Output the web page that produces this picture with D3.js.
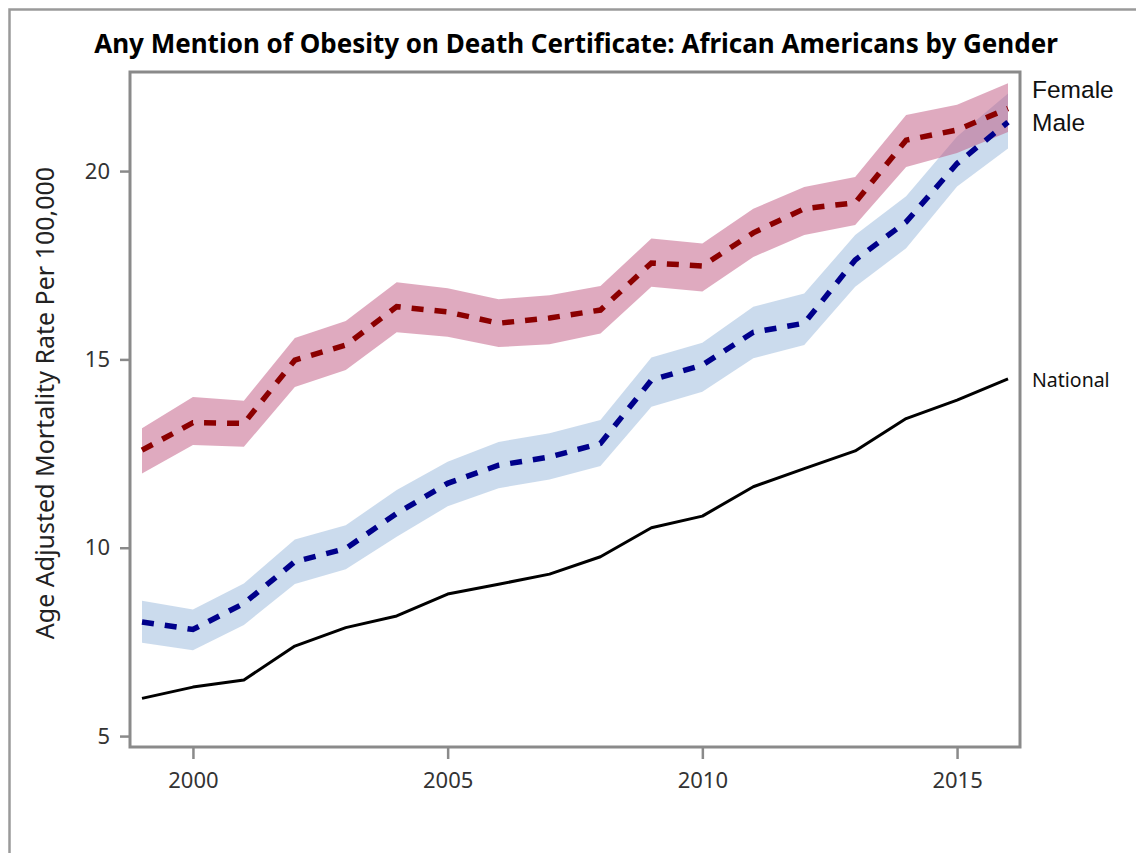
<!DOCTYPE html>
<html>
<head>
<meta charset="utf-8">
<script src="https://cdn.jsdelivr.net/npm/d3@7"></script>
<style>
  html, body { margin: 0; padding: 0; background: #fff; }
  svg { display: block; }
</style>
</head>
<body>
<svg id="chart" width="1136" height="853"></svg>
<script>
const years = [1999, 2000, 2001, 2002, 2003, 2004, 2005, 2006, 2007, 2008, 2009, 2010, 2011, 2012, 2013, 2014, 2015, 2016];
const national = [6.0, 6.3, 6.49, 7.39, 7.88, 8.19, 8.77, 9.03, 9.3, 9.76, 10.53, 10.84, 11.62, 12.1, 12.57, 13.43, 13.92, 14.48];
const male = [8.03, 7.83, 8.52, 9.63, 9.98, 10.91, 11.71, 12.19, 12.41, 12.77, 14.45, 14.85, 15.72, 15.96, 17.64, 18.65, 20.2, 21.3];
const maleLo = [7.48, 7.28, 7.95, 9.04, 9.43, 10.29, 11.1, 11.58, 11.81, 12.17, 13.74, 14.14, 15.03, 15.38, 16.93, 17.95, 19.59, 20.6];
const maleHi = [8.59, 8.36, 9.05, 10.22, 10.6, 11.53, 12.28, 12.81, 13.04, 13.39, 15.05, 15.44, 16.4, 16.75, 18.3, 19.33, 20.92, 22.06];
const female = [12.59, 13.32, 13.3, 14.98, 15.38, 16.4, 16.26, 15.96, 16.1, 16.31, 17.56, 17.48, 18.36, 19.0, 19.16, 20.82, 21.09, 21.66];
const femaleLo = [11.97, 12.73, 12.68, 14.27, 14.72, 15.72, 15.6, 15.33, 15.4, 15.69, 16.93, 16.8, 17.72, 18.3, 18.57, 20.11, 20.48, 21.04];
const femaleHi = [13.17, 14.0, 13.9, 15.57, 16.02, 17.05, 16.89, 16.6, 16.7, 16.95, 18.21, 18.08, 19.0, 19.58, 19.84, 21.49, 21.76, 22.33];
const xTicks = [2000, 2005, 2010, 2015];
const yTicks = [5, 10, 15, 20];
const title = "Any Mention of Obesity on Death Certificate: African Americans by Gender";
const yLabel = "Age Adjusted Mortality Rate Per 100,000";

const svg = d3.select("#chart");
const plot = { left: 130, right: 1020, top: 72, bottom: 747 };
const pad = 12;

const x = d3.scaleLinear().domain([d3.min(years), d3.max(years)]).range([plot.left + pad, plot.right - pad]);
const y = d3.scaleLinear().domain([4.71, 22.63]).range([plot.bottom, plot.top]);

// outer frame (extends past the right/bottom edges)
svg.append("rect")
  .attr("x", 9.5).attr("y", 9.5).attr("width", 2000).attr("height", 2000)
  .attr("fill", "none").attr("stroke", "#9a9a9a").attr("stroke-width", 2.5);

// title
svg.append("text")
  .attr("x", 576).attr("y", 53)
  .attr("text-anchor", "middle")
  .attr("font-family", "'Noto Sans', sans-serif")
  .attr("font-weight", "bold")
  .attr("font-size", 26)
  .attr("fill", "#000")
  .text(title);

const clip = svg.append("defs").append("clipPath").attr("id", "clip");
clip.append("rect").attr("x", plot.left).attr("y", plot.top)
  .attr("width", plot.right - plot.left).attr("height", plot.bottom - plot.top);

const g = svg.append("g").attr("clip-path", "url(#clip)");

const idx = d3.range(years.length);
const area = (lo, hi) => d3.area().x(i => x(years[i])).y0(i => y(lo[i])).y1(i => y(hi[i]));
const line = (v) => d3.line().x(i => x(years[i])).y(i => y(v[i]));

g.append("path").datum(idx).attr("d", area(maleLo, maleHi))
  .attr("fill", "#98b8dc").attr("fill-opacity", 0.5);
g.append("path").datum(idx).attr("d", area(femaleLo, femaleHi))
  .attr("fill", "#c0567f").attr("fill-opacity", 0.5);

g.append("path").datum(idx).attr("d", line(national))
  .attr("fill", "none").attr("stroke", "#000").attr("stroke-width", 3)
  .attr("stroke-linejoin", "round");
g.append("path").datum(idx).attr("d", line(male))
  .attr("fill", "none").attr("stroke", "#00008b").attr("stroke-width", 5.5)
  .attr("stroke-dasharray", "12,11");
g.append("path").datum(idx).attr("d", line(female))
  .attr("fill", "none").attr("stroke", "#8b0000").attr("stroke-width", 5.5)
  .attr("stroke-dasharray", "12,11");

// frame
svg.append("rect")
  .attr("x", plot.left).attr("y", plot.top)
  .attr("width", plot.right - plot.left).attr("height", plot.bottom - plot.top)
  .attr("fill", "none").attr("stroke", "#8a8a8a").attr("stroke-width", 3);

// axes
const yAxis = d3.axisLeft(y).tickValues(yTicks).tickSize(9).tickPadding(10).tickFormat(d3.format("d"));
const xAxis = d3.axisBottom(x).tickValues(xTicks).tickSize(11).tickPadding(13).tickFormat(d3.format("d"));

const ya = svg.append("g").attr("transform", `translate(${plot.left - 1},0)`).call(yAxis);
const xa = svg.append("g").attr("transform", `translate(0,${plot.bottom + 1})`).call(xAxis);
[ya, xa].forEach(a => {
  a.select(".domain").remove();
  a.selectAll(".tick line").attr("stroke", "#8a8a8a").attr("stroke-width", 2.5);
  a.selectAll(".tick text").attr("font-family", "'Noto Sans', sans-serif")
    .attr("font-size", 22).attr("fill", "#333");
});

// y label
svg.append("text")
  .attr("transform", `translate(54,403) rotate(-90)`)
  .attr("text-anchor", "middle")
  .attr("font-family", "'Noto Sans', sans-serif")
  .attr("font-size", 25)
  .attr("fill", "#222")
  .text(yLabel);

// series labels
const labels = [
  { text: "Female", v: femaleHi[femaleHi.length - 1], font: "'Liberation Sans', Arial, sans-serif", size: 24.5, baseline: 98 },
  { text: "Male", v: maleHi[maleHi.length - 1], font: "'Liberation Sans', Arial, sans-serif", size: 24.5, baseline: 131 },
  { text: "National", v: national[national.length - 1], font: "'Noto Sans', sans-serif", size: 19.5, baseline: null }
];
labels.forEach(l => {
  svg.append("text")
    .attr("x", 1032)
    .attr("y", l.baseline !== null ? l.baseline : y(l.v) + 8)
    .attr("font-family", l.font)
    .attr("font-size", l.size)
    .attr("fill", "#111")
    .text(l.text);
});
</script>
</body>
</html>
